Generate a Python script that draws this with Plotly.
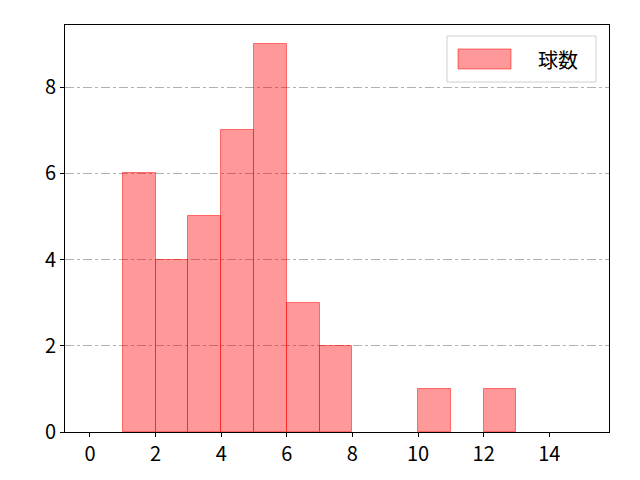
import plotly.graph_objects as go

# histogram bins (left edges) and counts
bin_left = [1, 2, 3, 4, 5, 6, 7, 8, 9, 10, 11, 12]
counts = [6, 4, 5, 7, 9, 3, 2, 0, 0, 1, 0, 1]
xticks = [0, 2, 4, 6, 8, 10, 12, 14]
yticks = [0, 2, 4, 6, 8]
series_name = "球数"

FILL = "rgba(255,0,0,0.4)"
EDGE = "rgba(255,0,0,0.5)"

fig = go.Figure()
fig.add_trace(go.Bar(
    x=[b + 0.5 for b in bin_left],
    y=[c if c > 0 else None for c in counts],
    width=1,
    name=series_name,
    marker=dict(color=FILL, line=dict(color=EDGE, width=1)),
    showlegend=False,
))

# matplotlib-like legend box drawn by hand
fig.add_shape(type="rect", xref="paper", yref="paper",
              x0=(439 - 57) / 544, x1=(588 - 57) / 544,
              y0=1 - (74 - 17) / 407, y1=1 - (28 - 17) / 407,
              line=dict(color="#d0d0d0", width=1), fillcolor="rgba(255,255,255,0.8)")
fig.add_shape(type="rect", xref="paper", yref="paper",
              x0=(450 - 57) / 544, x1=(503 - 57) / 544,
              y0=1 - (61 - 17) / 407, y1=1 - (41 - 17) / 407,
              line=dict(color=EDGE, width=1), fillcolor=FILL)
fig.add_annotation(text=series_name, xref="paper", yref="paper",
                   x=(550 - 57) / 544, y=1 - (51 - 17) / 407,
                   xanchor="center", yanchor="middle",
                   showarrow=False, font=dict(size=20))

fig.update_layout(
    width=640, height=480,
    margin=dict(l=57, r=39, t=17, b=56),
    plot_bgcolor="white", paper_bgcolor="white",
    font=dict(family="Noto Sans CJK JP", size=20, color="black"),
    bargap=0,
)
fig.update_xaxes(range=[-0.76, 15.82], tickvals=xticks, showgrid=False,
                 ticks="outside", ticklen=4, tickcolor="black",
                 showline=True, linecolor="black", mirror=True, zeroline=False)
fig.update_yaxes(range=[0, 9.44], tickvals=yticks, showgrid=True,
                 gridcolor="#b0b0b0", griddash="dashdot", gridwidth=1,
                 ticks="outside", ticklen=4, tickcolor="black",
                 showline=True, linecolor="black", mirror=True, zeroline=False)

fig.write_html("out.html")
